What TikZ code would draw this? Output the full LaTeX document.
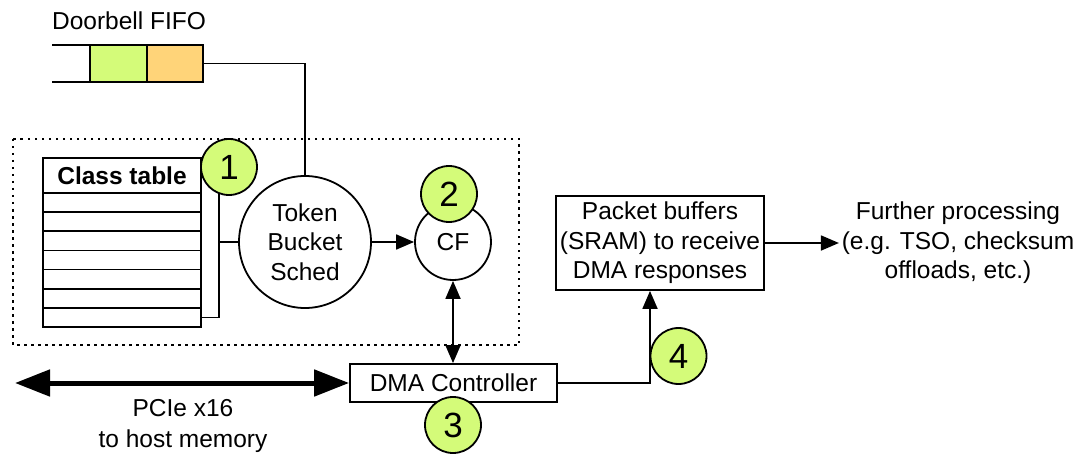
\documentclass[tikz,border=0pt]{standalone}
\usepackage{fontspec}
\setmainfont{Liberation Sans}
\usetikzlibrary{arrows.meta}
\definecolor{badgegreen}{HTML}{D4FB79}
\definecolor{cellorange}{HTML}{FFD479}
\begin{document}
\begin{tikzpicture}[x=1pt,y=-1pt,line width=1.8pt,
  every node/.style={font=\fontsize{24.5}{29.5}\selectfont},
  box/.style={draw,rectangle,inner sep=0pt},
  cell/.style={draw,rectangle,inner sep=0pt,minimum width=56.5pt,minimum height=37pt},
  row/.style={draw,rectangle,inner sep=0pt,minimum width=158pt,minimum height=19.14pt},
  badge/.style={draw,circle,fill=badgegreen,minimum size=56pt,inner sep=0pt,
    font=\fontsize{35}{35}\selectfont},
  unit/.style={draw,circle,inner sep=0pt,align=center},
  arr/.style={-{Triangle[length=18pt,width=15pt]}},
  darr/.style={{Triangle[length=18pt,width=15pt]}-{Triangle[length=18pt,width=15pt]}},
  bus/.style={line width=5pt,{Triangle[length=35pt,width=26pt]}-{Triangle[length=35pt,width=26pt]}}]
\useasboundingbox (0,0) rectangle (1081,457);

% scheduler region
\draw[line width=2pt,dash pattern=on 2.5pt off 4.5pt] (13,139) rectangle (519,345);

% doorbell FIFO
\node (fifolabel) at (129,21) {Doorbell FIFO};
\draw (52,45) -- (90,45) (52,82) -- (90,82);
\node[cell,fill=badgegreen] (cell1) at (118.5,63.5) {};
\node[cell,fill=cellorange] (cell2) at (175,63.5) {};

% class table
\node[row,minimum height=35pt] (hdr) at (122,175.5) {\textbf{Class table}};
\foreach \i in {1,...,7}
  \node[row] (row\i) at (122,{193+(\i-0.5)*19.14}) {};

% token bucket scheduler and CF
\node[unit,minimum size=132pt] (token) at (305,242) {Token\\Bucket\\Sched};
\node[unit,minimum size=76pt] (cf) at (453,242) {CF};

\node[badge] (b1) at (229,167) {1};
\node[badge] (b2) at (449,194) {2};

\draw (row7.east) -| (b1.249);
\coordinate (brk) at (219,242);
\draw (brk) -- (token.west);
\draw (cell2.east) -| (token.north);
\draw[arr] (token.east) -- (cf.west);

% DMA controller
\node[box,minimum width=207pt,minimum height=38pt] (dma) at (453.5,383) {DMA Controller};
\draw[darr] (cf.south) -- (cf.south |- dma.north);
\node[badge] (b3) at (453,425) {3};

% PCIe link
\coordinate (host) at (15,383);
\draw[bus] (host) -- (dma.west);
\node[align=center] (pcie) at (183,426) {PCIe x16\\[2pt]to host memory};

% packet buffers
\node[box,minimum width=208pt,minimum height=94pt,align=center] (pkt) at (660,243)
  {Packet buffers\\(SRAM) to receive\\DMA responses};
\draw[arr] (dma.east) -| ([xshift=-10pt]pkt.south);
\node[badge] (b4) at (678.5,356) {4};

\node[align=center,inner sep=2pt] (further) at (958,243)
  {Further processing\\(e.g. TSO, checksum\\offloads, etc.)};
\draw[arr] (pkt.east) -- (further.west);
\end{tikzpicture}
\end{document}
